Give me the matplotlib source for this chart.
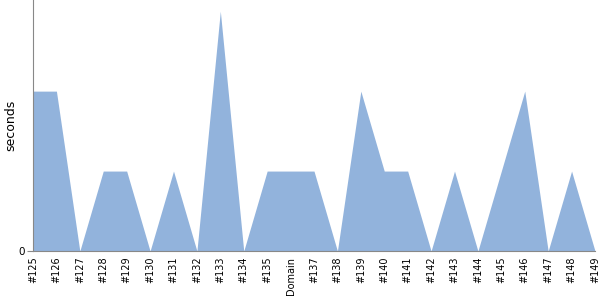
import matplotlib
matplotlib.use("Agg")
import matplotlib.pyplot as plt
import numpy as np

# builds / categories
labels = ['#125', '#126', '#127', '#128', '#129', '#130', '#131', '#132', '#133',
          '#134', '#135', 'Domain', '#137', '#138', '#139', '#140', '#141', '#142',
          '#143', '#144', '#145', '#146', '#147', '#148', '#149']
seconds = [2, 2, 0, 1, 1, 0, 1, 0, 3, 0, 1, 1, 1, 0, 2, 1, 1, 0, 1, 0, 1, 2, 0, 1, 0]

fig = plt.figure(figsize=(6, 3), dpi=100)
ax = fig.add_axes([33 / 600, 49 / 300, 562 / 600, 251 / 300])

x = np.arange(len(labels))
ax.fill_between(x, seconds, 0, color='#92b3dc', linewidth=0)

ax.set_xlim(0, len(labels) - 1)
ax.set_ylim(0, 3.14)
ax.set_yticks([0])
ax.set_yticklabels(['0'], fontsize=7.5)
ax.set_xticks(x)
ax.set_xticklabels(labels, rotation=90, fontsize=7)
ax.tick_params(axis='x', length=0, pad=4)
ax.tick_params(axis='y', length=4, color='#888888', pad=2)
ax.set_ylabel('seconds', fontsize=9, va='center')
ax.yaxis.set_label_coords(-0.039, 0.5)

for side in ['top', 'right']:
    ax.spines[side].set_visible(False)
for side in ['left', 'bottom']:
    ax.spines[side].set_color('#888888')

fig.savefig('out.png', dpi=100)
